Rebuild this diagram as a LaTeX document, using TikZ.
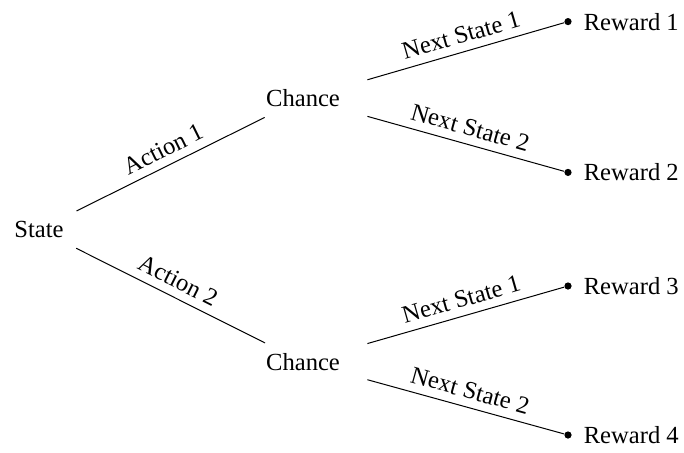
\documentclass[tikz,border=0pt]{standalone}
\usepackage{fontspec}
\setmainfont{Liberation Serif}
\begin{document}
\begin{tikzpicture}[x=1pt,y=1pt,
  font=\fontsize{12.3}{14}\selectfont,
  treenode/.style={inner xsep=5pt,inner ysep=5pt,minimum width=64pt},
  dot/.style={circle,fill=black,inner sep=0pt,minimum size=3.6pt},
  lbl/.style={inner sep=0pt,label distance=5.7pt},
  edgelbl/.style={sloped,above,inner sep=4pt},
  conn/.style={draw=black,line width=0.5pt}]
\useasboundingbox (0,0) rectangle (342,-226);
\node[treenode] (s) at (19.5,-114.8) {State};
\node[treenode] (c1) at (151.5,-49.2) {Chance};
\node[treenode] (c2) at (151.5,-181) {Chance};
\node[dot,label={[lbl]right:Reward 1}] (d1) at (284,-10.8) {};
\node[dot,label={[lbl]right:Reward 2}] (d2) at (284,-86.2) {};
\node[dot,label={[lbl]right:Reward 3}] (d3) at (284,-143) {};
\node[dot,label={[lbl]right:Reward 4}] (d4) at (284,-217.5) {};
\draw[conn] (s) -- node[edgelbl]{Action 1} (c1);
\draw[conn] (s) -- node[edgelbl]{Action 2} (c2);
\draw[conn] (c1) -- node[edgelbl]{Next State 1} (d1);
\draw[conn] (c1) -- node[edgelbl]{Next State 2} (d2);
\draw[conn] (c2) -- node[edgelbl]{Next State 1} (d3);
\draw[conn] (c2) -- node[edgelbl]{Next State 2} (d4);
\end{tikzpicture}
\end{document}
